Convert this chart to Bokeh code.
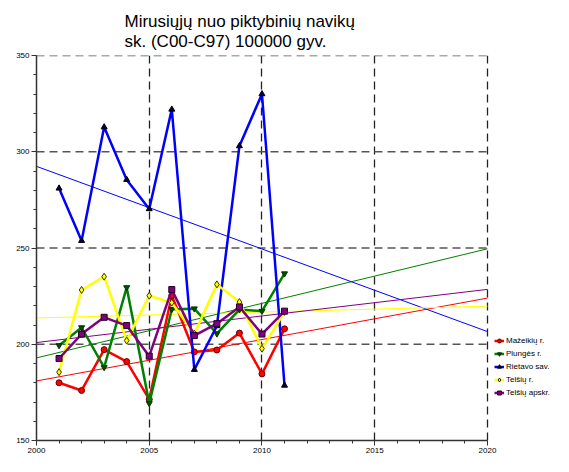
import numpy as np
from bokeh.plotting import figure
from bokeh.models import Range1d, SingleIntervalTicker, Legend, LegendItem
from bokeh.embed import file_html
from bokeh.resources import INLINE

years = [2001, 2002, 2003, 2004, 2005, 2006, 2007, 2008, 2009, 2010, 2011]
series_names = ["Mažeikių r.", "Plungės r.", "Rietavo sav.", "Telšių r.", "Telšių apskr."]
mazeikiu = [180.0, 176.0, 197.2, 191.0, 171.4, 225.3, 196.0, 197.0, 205.8, 184.6, 208.0]
plunges = [199.4, 208.7, 188.0, 229.5, 169.3, 218.2, 218.5, 205.5, 218.0, 217.2, 236.7]
rietavo = [281.0, 253.8, 312.8, 285.5, 270.3, 322.0, 186.8, 209.5, 303.0, 330.0, 178.6]
telsiu = [185.5, 228.2, 235.1, 201.9, 225.2, 221.6, 205.5, 231.1, 221.9, 197.7, 216.8]
telsiu_apskr = [192.6, 205.3, 214.0, 209.7, 193.8, 228.4, 204.5, 210.7, 219.4, 205.3, 217.2]
trend_years = [2000, 2020]
x_bounds = (2000, 2020)
grid_y = [200, 250, 300, 350]

# frame spans past 2020 to leave room for the legend at the right
p = figure(width=553, height=456, output_backend="svg", toolbar_location=None,
           x_range=Range1d(2000, 2022.93), y_range=Range1d(150, 350),
           min_border_left=36, min_border_right=0, min_border_top=55, min_border_bottom=16)
p.outline_line_color = None
p.background_fill_color = "white"
p.border_fill_color = "white"

p.title.text = "Mirusiųjų nuo piktybinių navikų\nsk. (C00-C97) 100000 gyv."
p.title.text_font = "Liberation Sans"
p.title.text_font_size = "17px"
p.title.text_font_style = "normal"
p.title.text_color = "black"
p.title.text_line_height = 1.1
p.title.align = "left"
p.title.offset = 88
p.title.standoff = 8

p.xaxis.ticker = SingleIntervalTicker(interval=5, num_minor_ticks=5)
p.yaxis.ticker = SingleIntervalTicker(interval=50, num_minor_ticks=5)
p.xaxis.bounds = x_bounds
for ax in (p.xaxis, p.yaxis):
    ax.axis_line_color = "#333333"
    ax.axis_line_width = 1.5
    ax.major_tick_line_color = "#333333"
    ax.minor_tick_line_color = "#333333"
    ax.major_tick_out = 5
    ax.major_tick_in = 0
    ax.minor_tick_out = 3
    ax.minor_tick_in = 0
    ax.major_label_text_font = "Liberation Sans"
    ax.major_label_text_font_size = "8px"
    ax.major_label_text_color = "black"
    ax.major_label_standoff = 2

p.xgrid.bounds = x_bounds
p.xgrid.grid_line_color = "#222222"
p.xgrid.grid_line_width = 1.3
p.xgrid.grid_line_dash = "8 5"
p.ygrid.visible = False
p.segment(x0=[x_bounds[0]] * len(grid_y), y0=grid_y,
          x1=[x_bounds[1]] * len(grid_y), y1=grid_y,
          line_color="#555555", line_width=1.6, line_dash="8 5")

specs = [
    (mazeikiu, "#FF0000", "circle", "#FF0000", "#660000"),
    (plunges, "#008000", "inverted_triangle", "#005000", "#003000"),
    (rietavo, "#0000FF", "triangle", "#000040", "#000000"),
    (telsiu, "#FFFF00", "diamond", "#FFFF00", "#333300"),
    (telsiu_apskr, "#800080", "square", "#800080", "#200020"),
]

items = []
for (vals, col, mk, fill, outline), name in zip(specs, series_names):
    k, b = np.polyfit(years, vals, 1)
    p.line(trend_years, [k * x + b for x in trend_years], line_color=col, line_width=1)
for (vals, col, mk, fill, outline), name in zip(specs, series_names):
    lr = p.line(years, vals, line_color=col, line_width=2.5)
    sr = p.scatter(years, vals, marker=mk, size=6 if mk != "diamond" else 7,
                   fill_color=fill, line_color=outline, line_width=1)
    items.append(LegendItem(label=name, renderers=[lr, sr]))

legend = Legend(items=items, location=(458, 42), orientation="vertical")
legend.label_text_font = "Liberation Sans"
legend.label_text_font_size = "8px"
legend.label_text_color = "black"
legend.glyph_width = 10
legend.glyph_height = 11
legend.label_height = 11
legend.spacing = 2
legend.padding = 0
legend.margin = 0
legend.label_standoff = 2
legend.border_line_color = None
legend.background_fill_alpha = 0
p.add_layout(legend, "center")

open("out.html", "w").write(file_html(p, INLINE))
